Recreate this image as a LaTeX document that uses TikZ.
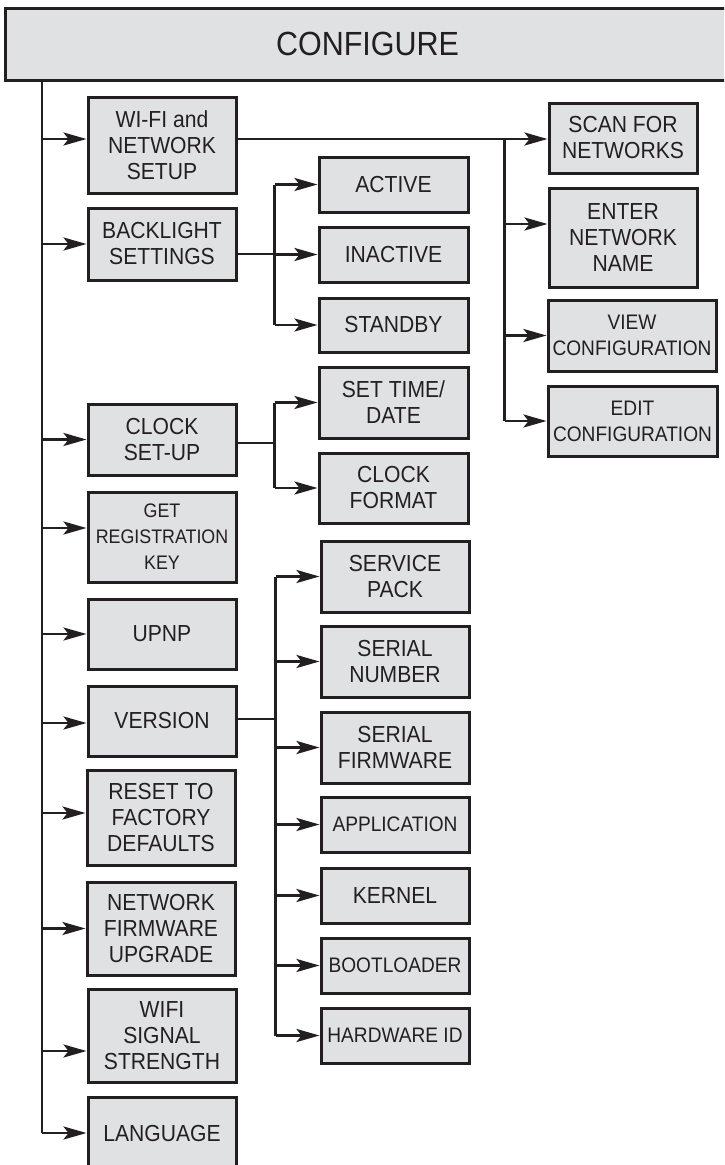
\documentclass[tikz,border=0pt]{standalone}
\usepackage{fontspec}
\setmainfont{Liberation Sans}[FakeStretch=0.91]
\usetikzlibrary{arrows.meta,calc}
\definecolor{boxfill}{HTML}{E0E1E3}
\definecolor{ink}{HTML}{231F20}
\tikzset{
  box/.style={draw=ink, fill=boxfill, line width=3pt, align=center, inner sep=0pt,
    font=\fontsize{23.2}{26}\selectfont, text=ink},
  smalltext/.style={font=\fontsize{21}{26}\selectfont},
  tinytext/.style={font=\fontsize{19.6}{26}\selectfont},
  titlebox/.style={draw=ink, fill=boxfill, line width=3pt, inner sep=0pt,
    font=\fontsize{33.5}{36}\selectfont, text=ink},
  conn/.style={draw=ink, line width=2.8pt},
  arr/.style={conn, -{Stealth[length=23pt,width=13pt,inset=5pt]}}
}
\newcommand\bx[7][]{\node[box,#1,minimum width={(#5-#3)*1pt},minimum height={(#6-#4)*1pt}] (#2) at ({(#3+#5)/2},{(#4+#6)/2}) {#7};}
\begin{document}
\begin{tikzpicture}[x=1pt,y=-1pt]
\useasboundingbox (0,0) rectangle (724,1165);
\clip (0,0) rectangle (724,1165);
% title
\node[titlebox,minimum width=725pt,minimum height=72pt] (title) at (367.5,44) {CONFIGURE};
% left column
\bx{wifi}{88}{97}{236}{193}{WI-FI and\\NETWORK\\SETUP}
\bx{backl}{88}{208}{236}{280}{BACKLIGHT\\SETTINGS}
\bx{clock}{88}{404}{236}{475}{CLOCK\\SET-UP}
\bx[tinytext]{getreg}{88}{492}{236}{582}{GET\\REGISTRATION\\KEY}
\bx{upnp}{88}{599}{236}{669}{UPNP}
\bx{version}{88}{686}{236}{756}{VERSION}
\bx{reset}{87}{770}{235}{865}{RESET TO\\FACTORY\\DEFAULTS}
\bx{nfu}{87}{882}{235}{975}{NETWORK\\FIRMWARE\\UPGRADE}
\bx{wss}{88}{989}{236}{1082}{WIFI\\SIGNAL\\STRENGTH}
\bx{lang}{88}{1097}{236}{1169}{LANGUAGE}
% middle column
\bx{active}{319}{157}{468}{212}{ACTIVE}
\bx{inactive}{319}{227}{468}{282}{INACTIVE}
\bx{standby}{319}{298}{468}{352}{STANDBY}
\bx{settime}{319}{367}{468}{438}{SET TIME/\\DATE}
\bx{clkfmt}{319}{453}{468}{523}{CLOCK\\FORMAT}
\bx{svc}{321}{541}{469}{612}{SERVICE\\PACK}
\bx{sernum}{321}{626}{469}{697}{SERIAL\\NUMBER}
\bx{serfw}{321}{712}{469}{783}{SERIAL\\FIRMWARE}
\bx[smalltext]{app}{321}{797}{469}{852}{APPLICATION}
\bx{kernel}{321}{868}{469}{923}{KERNEL}
\bx[smalltext]{boot}{321}{938}{469}{993}{BOOTLOADER}
\bx[smalltext]{hwid}{321}{1008}{469}{1063}{HARDWARE ID}
% right column
\bx{scan}{549}{103}{697}{173}{SCAN FOR\\NETWORKS}
\bx{enter}{549}{188}{697}{287}{ENTER\\NETWORK\\NAME}
\bx[smalltext]{view}{548}{300}{716}{371}{VIEW\\CONFIGURATION}
\bx[smalltext]{edit}{548}{386}{717}{456}{EDIT\\CONFIGURATION}
% trunk
\coordinate (tt) at (42,80);
\newcommand\larr[2]{\coordinate (#1in) at ([yshift=#2pt]#1.west); \draw[arr] (tt |- #1in) -- (#1in);}
\draw[conn] (tt) -- (tt |- lang.west);
\larr{wifi}{6}
\larr{backl}{0}
\larr{clock}{0}
\larr{getreg}{9}
\larr{upnp}{0}
\larr{version}{-2}
\larr{reset}{4.5}
\larr{nfu}{0}
\larr{wss}{-15.5}
\larr{lang}{0}
% wifi branch
\coordinate (wout) at ([yshift=6pt]wifi.east);
\path (wout) ++(267,0) coordinate (wj);
\draw[arr] (wout) -- (wout -| scan.west);
\coordinate (enterin) at ([yshift=13.5pt]enter.west);
\draw[conn] (wj) -- (wj |- edit.west);
\draw[arr] (wj |- enterin) -- (enterin);
\draw[arr] (wj |- view.west) -- (view.west);
\draw[arr] (wj |- edit.west) -- (edit.west);
% backlight branch
\coordinate (bout) at ([yshift=-10pt]backl.east);
\path (bout) ++(37,0) coordinate (bj);
\draw[conn] (bout) -- (bj);
\draw[conn] (bj |- active.west) -- (bj |- standby.west);
\draw[arr] (bj |- active.west) -- (active.west);
\draw[arr] (bj |- inactive.west) -- (inactive.west);
\draw[arr] (bj |- standby.west) -- (standby.west);
% clock branch
\coordinate (cout) at ([yshift=-3.5pt]clock.east);
\path (cout) ++(37,0) coordinate (cj);
\draw[conn] (cout) -- (cj);
\draw[conn] (cj |- settime.west) -- (cj |- clkfmt.west);
\draw[arr] (cj |- settime.west) -- (settime.west);
\draw[arr] (cj |- clkfmt.west) -- (clkfmt.west);
% version branch
\coordinate (vout) at ([yshift=2pt]version.east);
\path (vout) ++(38,0) coordinate (vj);
\draw[conn] (vout) -- (vj);
\draw[conn] (vj |- svc.west) -- (vj |- hwid.west);
\foreach \n in {svc,sernum,serfw,app,kernel,boot,hwid}
  \draw[arr] (vj |- \n.west) -- (\n.west);
\end{tikzpicture}
\end{document}
